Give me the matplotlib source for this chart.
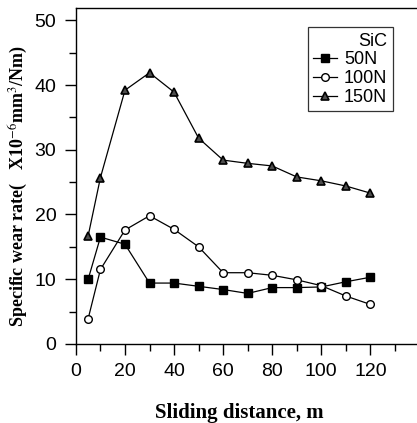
import matplotlib
matplotlib.use('Agg')
import matplotlib.pyplot as plt
from matplotlib.ticker import MultipleLocator

# sliding distance (m)
distance = [5, 10, 20, 30, 40, 50, 60, 70, 80, 90, 100, 110, 120]

# specific wear rate (x10^-6 mm^3/Nm)
wear_50n = [10.0, 16.5, 15.4, 9.4, 9.4, 8.9, 8.4, 7.8, 8.7, 8.7, 8.8, 9.6, 10.3]
wear_100n = [3.9, 11.5, 17.6, 19.8, 17.7, 15.0, 11.0, 11.0, 10.6, 9.9, 9.0, 7.4, 6.1]
wear_150n = [16.7, 25.7, 39.2, 41.9, 38.9, 31.8, 28.4, 27.9, 27.5, 25.8, 25.2, 24.4, 23.3]

series_labels = ['50N', '100N', '150N']
x_ticks = [0, 20, 40, 60, 80, 100, 120]
y_ticks = [0, 10, 20, 30, 40, 50]

plt.rcParams['mathtext.fontset'] = 'stix'

fig = plt.figure(figsize=(4.17, 4.23), dpi=100)
ax = fig.add_axes([0.182, 0.187, 0.818, 0.794])

ax.plot(distance, wear_50n, color='black', lw=0.9, marker='s', ms=6,
        mfc='black', mec='black', label=series_labels[0])
ax.plot(distance, wear_100n, color='black', lw=0.9, marker='o', ms=5.5,
        mfc='white', mec='black', mew=1.0, label=series_labels[1])
ax.plot(distance, wear_150n, color='black', lw=0.9, marker='^', ms=6,
        mfc='0.3', mec='black', mew=1.2, label=series_labels[2])

ax.set_xlim(0, 139)
ax.set_ylim(0, 51.9)
ax.set_xticks(x_ticks)
ax.set_yticks(y_ticks)
ax.xaxis.set_minor_locator(MultipleLocator(10))
ax.yaxis.set_minor_locator(MultipleLocator(5))
ax.tick_params(axis='both', which='major', direction='out', length=8, width=1,
               labelsize=14, pad=6)
ax.tick_params(axis='both', which='minor', direction='out', length=5, width=1)
for lbl in ax.get_xticklabels() + ax.get_yticklabels():
    lbl.set_fontfamily('Liberation Sans')

ax.spines['right'].set_visible(False)
for s in ['left', 'bottom', 'top']:
    ax.spines[s].set_linewidth(1.0)

ax.set_xlabel('Sliding distance, m', fontsize=15, fontweight='bold',
              family='Liberation Serif')
ax.xaxis.set_label_coords(0.48, -0.175)
ax.set_ylabel('Specific wear rate(   X10$^{-6}$mm$^{3}$/Nm)', fontsize=13,
              fontweight='bold', family='Liberation Serif')
ax.yaxis.set_label_coords(-0.136, 0.47)

leg = ax.legend(title='SiC', loc='upper right', bbox_to_anchor=(0.955, 0.97),
                frameon=True, fancybox=False,
                handlelength=1.3, handletextpad=0.4, borderpad=0.3,
                labelspacing=0.1, prop={'family': 'Liberation Sans', 'size': 13},
                title_fontsize=13)
leg.get_frame().set_edgecolor('black')
leg.get_frame().set_linewidth(0.9)
leg._legend_box.align = 'right'
leg.get_title().set_fontfamily('Liberation Sans')

fig.savefig('out.png', dpi=100)
